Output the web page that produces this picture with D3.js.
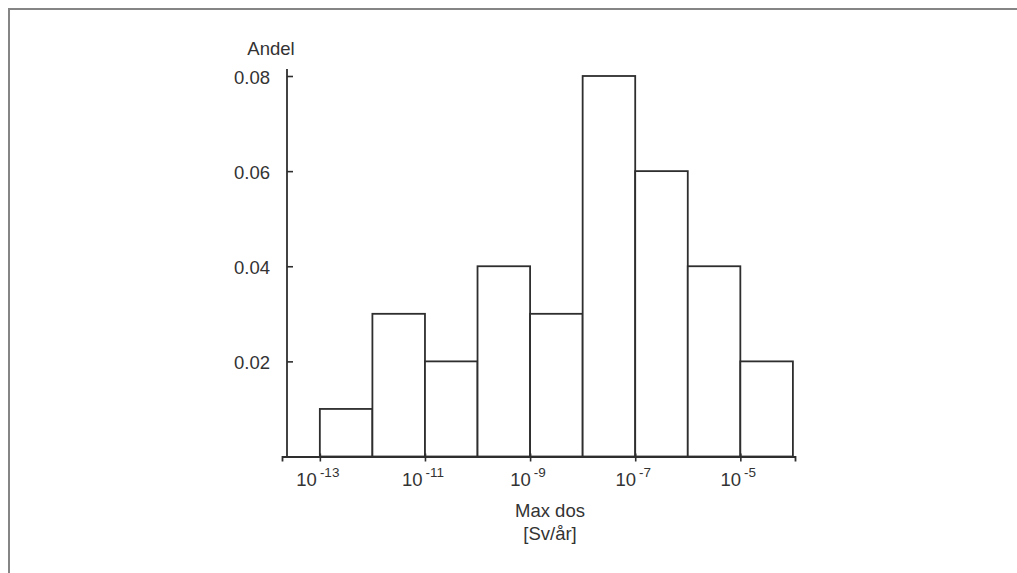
<!DOCTYPE html>
<html>
<head>
<meta charset="utf-8">
<script src="https://cdn.jsdelivr.net/npm/d3@7"></script>
<style>
  body { margin: 0; background: #fff; }
  svg text { font-family: "Liberation Sans", Arial, sans-serif; fill: #333; }
</style>
</head>
<body>
<div id="chart"></div>
<script>
// bins are one decade wide, start exponent of each bin
var binStart = [-13, -12, -11, -10, -9, -8, -7, -6, -5];
var andel = [0.01, 0.03, 0.02, 0.04, 0.03, 0.08, 0.06, 0.04, 0.02];
var xTickExp = [-13, -11, -9, -7, -5];
var yTicks = [0.02, 0.04, 0.06, 0.08];

var width = 1017, height = 573;
var fs = 18.5;

document.addEventListener('DOMContentLoaded', function(){
    var svg = d3.select('#chart').append('svg')
        .attr('width', width)
        .attr('height', height);

    // scanned frame (top and left only)
    svg.append('path')
        .attr('d', 'M9,' + height + 'V9H' + width)
        .attr('fill', 'none')
        .attr('stroke', '#858585')
        .attr('stroke-width', 2);

    var x = d3.scaleLog()
        .domain([Math.pow(10, -13.72), Math.pow(10, -3.96)])
        .range([282, 795]);
    var y = d3.scaleLinear()
        .domain([0, 0.08])
        .range([456.5, 76]);
    var x0 = 287;

    // bars
    svg.append('g').selectAll('rect')
        .data(binStart)
        .enter()
        .append('rect')
        .attr('x', function(d){ return x(Math.pow(10, d)); })
        .attr('width', function(d){ return x(Math.pow(10, d + 1)) - x(Math.pow(10, d)); })
        .attr('y', function(d, i){ return y(andel[i]); })
        .attr('height', function(d, i){ return y(0) - y(andel[i]); })
        .attr('fill', '#fff')
        .attr('stroke', '#2e2e2e')
        .attr('stroke-width', 1.8);

    // y axis
    var yAxis = svg.append('g')
        .attr('transform', 'translate(' + x0 + ',0)')
        .call(d3.axisLeft(y).tickValues(yTicks).tickSize(5).tickPadding(12)
              .tickFormat(d3.format('.2f')));
    yAxis.select('.domain').remove();
    yAxis.append('line')
        .attr('x1', 0).attr('x2', 0)
        .attr('y1', 69).attr('y2', y(0))
        .attr('stroke', '#2e2e2e').attr('stroke-width', 1.8);
    yAxis.selectAll('.tick line').attr('x2', 6).attr('stroke', '#2e2e2e').attr('stroke-width', 1.6);
    yAxis.selectAll('.tick text')
        .attr('font-size', fs).attr('dy', '0.4em')
        .style('font-family', '"Liberation Sans", Arial, sans-serif')
        .attr('fill', '#333');

    // x axis
    var xAxis = svg.append('g')
        .attr('transform', 'translate(0,' + y(0) + ')')
        .call(d3.axisBottom(x)
              .tickValues(xTickExp.map(function(e){ return Math.pow(10, e); }))
              .tickSize(5).tickFormat(''));
    xAxis.select('.domain').attr('stroke', '#2e2e2e').attr('stroke-width', 1.8);
    xAxis.selectAll('.tick line').attr('y1', -3).attr('stroke', '#2e2e2e').attr('stroke-width', 1.6);

    var lab = svg.append('g').selectAll('text')
        .data(xTickExp)
        .enter()
        .append('text')
        .attr('x', function(d){ return x(Math.pow(10, d)) - 2; })
        .attr('y', 486)
        .attr('text-anchor', 'middle')
        .attr('font-size', fs);
    lab.append('tspan').text('10');
    lab.append('tspan')
        .attr('dx', 3).attr('dy', -9)
        .attr('font-size', 13.5)
        .text(function(d){ return '-' + Math.abs(d); });

    // axis titles
    svg.append('text')
        .attr('x', 271).attr('y', 55)
        .attr('text-anchor', 'middle')
        .attr('font-size', fs)
        .text('Andel');
    svg.append('text')
        .attr('x', 550).attr('y', 517)
        .attr('text-anchor', 'middle')
        .attr('font-size', fs)
        .text('Max dos');
    svg.append('text')
        .attr('x', 550).attr('y', 540)
        .attr('text-anchor', 'middle')
        .attr('font-size', fs)
        .text('[Sv/år]');
});
</script>
</body>
</html>
